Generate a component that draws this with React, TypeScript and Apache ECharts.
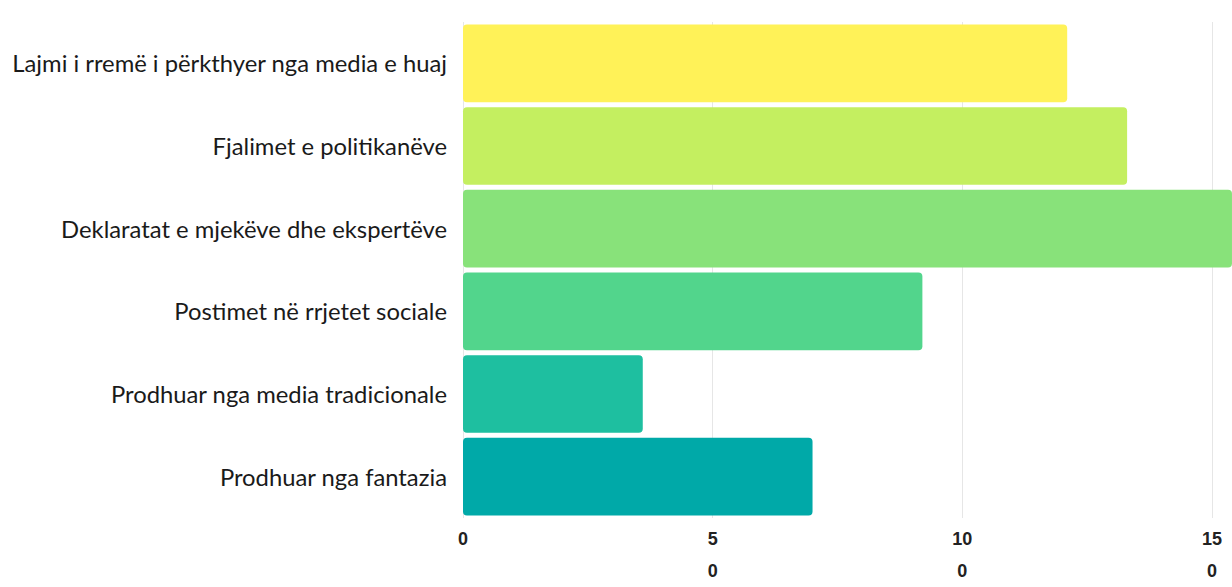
import React, { useEffect, useRef } from "react";
import * as echarts from "echarts";

const categories = [
  "Lajmi i rremë i përkthyer nga media e huaj",
  "Fjalimet e politikanëve",
  "Deklaratat e mjekëve dhe ekspertëve",
  "Postimet në rrjetet sociale",
  "Prodhuar nga media tradicionale",
  "Prodhuar nga fantazia",
];
const values = [121, 133, 154, 92, 36, 70];
const barColors = ["#FFF258", "#C4EF60", "#88E27A", "#52D58C", "#1EBFA0", "#00A9A8"];
const axisMin = 0;
const axisMax = 150;
const axisInterval = 50;

export default function App() {
  const ref = useRef<HTMLDivElement>(null);
  useEffect(() => {
    if (!ref.current) return;
    const chart = echarts.init(ref.current, null, { renderer: "svg" });
    chart.setOption({
      animation: false,
      grid: { left: 463, right: 20, top: 22, bottom: 49, containLabel: false },
      xAxis: {
        type: "value",
        min: axisMin,
        max: axisMax,
        interval: axisInterval,
        axisLine: { show: false },
        axisTick: { show: false },
        splitLine: { show: true, lineStyle: { color: "#e6e6e6", width: 1 } },
        axisLabel: {
          margin: 5,
          color: "#222",
          fontFamily: "Liberation Sans Narrow, Liberation Sans, sans-serif",
          fontWeight: "bold",
          fontSize: 18,
          lineHeight: 32,
          verticalAlign: "top",
          formatter: (v: number) => {
            const s = String(v);
            return s.length > 1 ? s.slice(0, -1) + "\n" + s.slice(-1) : s;
          },
        },
      },
      yAxis: {
        type: "category",
        data: categories,
        inverse: true,
        axisLine: { show: false },
        axisTick: { show: false },
        splitLine: { show: false },
        axisLabel: {
          margin: 16,
          color: "#1a1a1a",
          fontFamily: "Lato, 'Open Sans', sans-serif",
          fontSize: 23.8,
        },
      },
      series: [
        {
          type: "bar",
          clip: false,
          barCategoryGap: "6%",
          data: values.map((v, i) => ({
            value: v,
            itemStyle: { color: barColors[i], borderRadius: 4 },
          })),
        },
      ],
    });
    return () => chart.dispose();
  }, []);
  return (
    <div
      ref={ref}
      style={{ position: "fixed", left: 0, top: 0, width: 1232, height: 587, background: "#fff" }}
    />
  );
}
